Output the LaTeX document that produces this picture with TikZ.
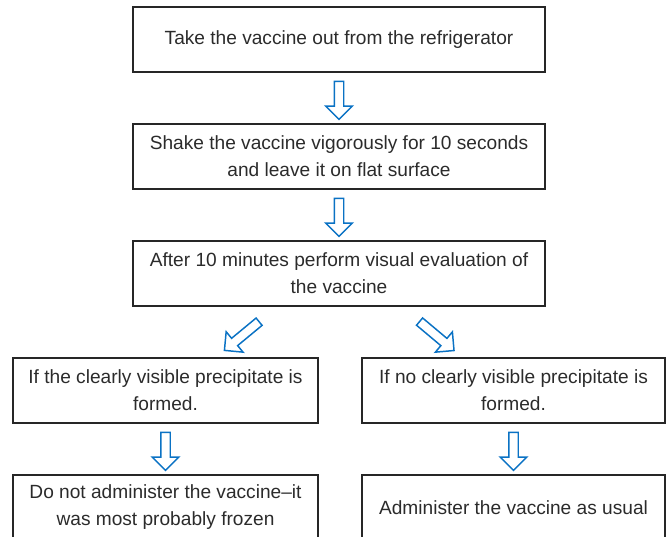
\documentclass[tikz,border=0pt]{standalone}
\usepackage{fontspec}
\setmainfont{Liberation Sans}
\usepackage{xcolor}
\usepackage{tikz}
\usetikzlibrary{calc, shapes.arrows, positioning}

\definecolor{arrowblue}{HTML}{0A72C4}
\definecolor{textgray}{HTML}{2B2B2B}

\begin{document}
\begin{tikzpicture}[
    stepbox/.style={draw=black!85, line width=0.9pt, minimum height=1.625cm,
        align=center, text=textgray, inner sep=0pt,
        font=\fontsize{13.6}{19.2}\selectfont},
    blockarrow/.style={single arrow, draw=arrowblue, fill=white, line width=1.05pt,
        minimum width=0.625cm, single arrow head extend=0.2125cm,
        inner xsep=0pt, inner ysep=0.1cm, minimum height=0.95cm}
]
    % 1. Khung hình
    \useasboundingbox (0,0) rectangle (16.75,-13.4);

    % 2. Các bước chính
    \node[stepbox, minimum width=10.3cm] (takeout) at (8.475,-0.9875)
        {Take the vaccine out from the refrigerator};
    \node[stepbox, minimum width=10.3cm] (shake) at (8.475,-3.9125)
        {Shake the vaccine vigorously for 10 seconds\\and leave it on flat surface};
    \node[stepbox, minimum width=10.3cm] (evaluation) at (8.475,-6.8375)
        {After 10 minutes perform visual evaluation of\\the vaccine};

    % 3. Hai nhánh kết quả
    \node[stepbox, minimum width=7.625cm] (precip) at (4.1375,-9.7625)
        {If the clearly visible precipitate is\\formed.};
    \node[stepbox, minimum width=7.575cm] (noprecip) at (12.8375,-9.7625)
        {If no clearly visible precipitate is\\formed.};
    \node[stepbox, minimum width=7.625cm] (frozen) at (4.1375,-12.6875)
        {Do not administer the vaccine–it\\was most probably frozen};
    \node[stepbox, minimum width=7.575cm] (usual) at (12.8375,-12.6875)
        {Administer the vaccine as usual};

    % 4. Mũi tên khối
    \node[blockarrow, rotate=-90] (arrA) at ($(takeout.south)!0.5!(shake.north)$) {};
    \node[blockarrow, rotate=-90] (arrB) at ($(shake.south)!0.5!(evaluation.north)$) {};
    \node[blockarrow, rotate=219.6, minimum height=1.125cm] (arrC)
        at ($(evaluation.south)!0.55!(precip.north)$) {};
    \node[blockarrow, rotate=-40, minimum height=1.125cm] (arrD)
        at ($(evaluation.south)!0.55!(noprecip.north)$) {};
    \node[blockarrow, rotate=-90] (arrE) at ($(precip.south)!0.5!(frozen.north)$) {};
    \node[blockarrow, rotate=-90] (arrF) at ($(noprecip.south)!0.5!(usual.north)$) {};
\end{tikzpicture}
\end{document}
